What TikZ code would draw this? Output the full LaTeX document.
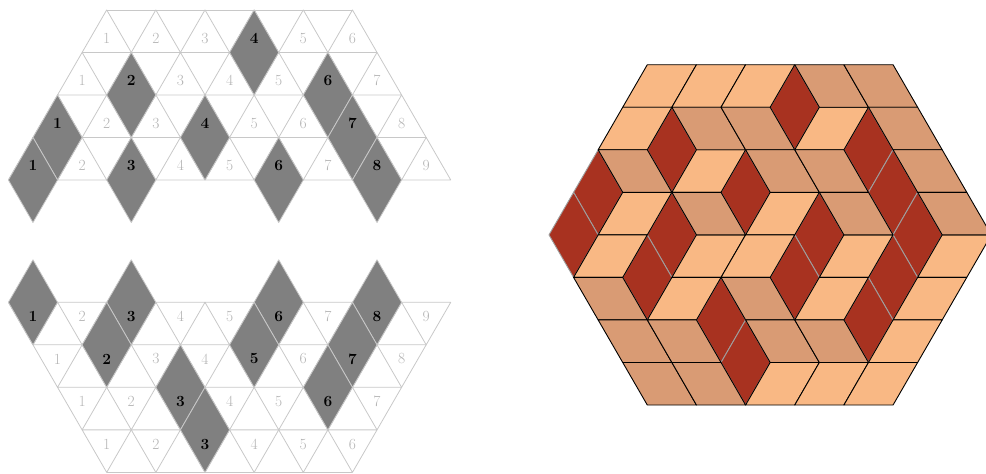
\documentclass[tikz,border=0pt]{standalone}
\definecolor{loC}{HTML}{F9B884}
\definecolor{tanC}{HTML}{D99B74}
\definecolor{redC}{HTML}{A83220}
\definecolor{gridC}{HTML}{C8C8C8}
\definecolor{numC}{HTML}{B4B4B4}
\tikzset{
  tri/.style={draw=gridC, line width=0.8pt, line join=round},
  loz/.style={fill=gray, draw=gridC, line width=0.8pt, line join=round},
  num/.style={text=numC, font=\fontsize{15.5}{18}\selectfont, inner sep=0pt},
  bnum/.style={text=black, font=\fontsize{15.5}{18}\selectfont\bfseries, inner sep=0pt},
  lotile/.style={fill=loC, draw=black, line width=0.9pt, line join=round},
  tantile/.style={fill=tanC, draw=black, line width=0.9pt, line join=round},
  redtile/.style={fill=redC, draw=gray!75, line width=0.9pt, line join=round}
}
\begin{document}
\begin{tikzpicture}[x=1pt,y=-1pt]
\useasboundingbox (0,0) rectangle (986,474);

% ---------------- top-left diagram ----------------
\begin{scope}[shift={(8.4pt,-9.9pt)}, x=24.575pt, y=-42.52pt]
  \foreach \k in {1,...,4}{
    \pgfmathtruncatemacro\n{5+\k}
    \foreach \i in {1,...,\n}{
      \pgfmathtruncatemacro\q{5-\k+2*(\i-1)}
      \draw[tri] (\q,\k-1) -- ++(1,1) -- ++(-2,0) -- cycle;
    }
  }
  \draw[tri] (4,0) -- (14,0);
  \foreach \q/\k in {10/1, 5/2, 13/2, 2/3, 8/3, 14/3, 1/4, 5/4, 11/4, 15/4}
    \draw[loz] (\q,\k-1) -- ++(1,1) -- ++(-1,1) -- ++(-1,-1) -- cycle;
  \foreach \i/\st in {1/num,2/num,3/num,4/bnum,5/num,6/num}
    \node[\st] (ta-1-\i) at ({4+2*(\i-1)},{2/3}) {\i};
  \foreach \i/\st in {1/num,2/bnum,3/num,4/num,5/num,6/bnum,7/num}
    \node[\st] (ta-2-\i) at ({3+2*(\i-1)},{1+2/3}) {\i};
  \foreach \i/\st in {1/bnum,2/num,3/num,4/bnum,5/num,6/num,7/bnum,8/num}
    \node[\st] (ta-3-\i) at ({2+2*(\i-1)},{2+2/3}) {\i};
  \foreach \i/\st in {1/bnum,2/num,3/bnum,4/num,5/num,6/bnum,7/num,8/bnum,9/num}
    \node[\st] (ta-4-\i) at ({1+2*(\i-1)},{3+2/3}) {\i};
\end{scope}

% ---------------- bottom-left diagram ----------------
\begin{scope}[shift={(8.4pt,-302.3pt)}, x=24.575pt, y=-42.52pt]
  \foreach \k in {1,...,4}{
    \pgfmathtruncatemacro\n{10-\k}
    \foreach \i in {1,...,\n}{
      \pgfmathtruncatemacro\q{\k+2*(\i-1)}
      \draw[tri] (\q-1,\k-1) -- ++(2,0) -- ++(-1,1) -- cycle;
    }
  }
  \draw[tri] (4,4) -- (14,4);
  \foreach \q/\k in {1/1, 5/1, 11/1, 15/1, 4/2, 10/2, 14/2, 7/3, 13/3, 8/4}
    \draw[loz] (\q,\k-2) -- ++(1,1) -- ++(-1,1) -- ++(-1,-1) -- cycle;
  \foreach \i/\st in {1/bnum,2/num,3/bnum,4/num,5/num,6/bnum,7/num,8/bnum,9/num}
    \node[\st] (tb-1-\i) at ({1+2*(\i-1)},{1/3}) {\i};
  \foreach \i/\st in {1/num,2/bnum,3/num,4/num,5/bnum,6/num,7/bnum,8/num}
    \node[\st] (tb-2-\i) at ({2+2*(\i-1)},{1+1/3}) {\i};
  \foreach \i/\st in {1/num,2/num,3/bnum,4/num,5/num,6/bnum,7/num}
    \node[\st] (tb-3-\i) at ({3+2*(\i-1)},{2+1/3}) {\i};
  \foreach \i/\st in {1/num,2/num,3/bnum,4/num,5/num,6/num}
    \node[\st] (tb-4-\i) at ({4+2*(\i-1)},{3+1/3}) {\i};
\end{scope}

% ---------------- lozenge tiling of the hexagon ----------------
\begin{scope}[shift={(647.3pt,-64.7pt)}, x=24.575pt, y=-42.54pt]
  \foreach \q/\r in {6/0, 1/1, 9/1, -2/2, 4/2, 10/2, -3/3, 1/3, 7/3, 11/3, 0/4, 6/4, 10/4, 3/5, 9/5, 4/6}
    \draw[redtile] (\q,\r) -- ++(1,1) -- ++(-1,1) -- ++(-1,-1) -- cycle;
  \foreach \q/\r in {0/0, 2/0, 4/0, -1/1, 7/1, 2/2, -1/3, 5/3, -2/4, 2/4, 4/4, 8/4, 12/4, 1/5, 7/5, 11/5, 10/6, 5/7, 7/7, 9/7}
    \draw[lotile] (\q,\r) -- ++(2,0) -- ++(-1,1) -- ++(-2,0) -- cycle;
  \foreach \q/\r in {6/0, 8/0, 1/1, 3/1, 9/1, -2/2, 4/2, 6/2, 10/2, 1/3, 7/3, 11/3, -3/5, 3/5, -2/6, 0/6, 4/6, 6/6, -1/7, 1/7}
    \draw[tantile] (\q,\r) -- ++(2,0) -- ++(1,1) -- ++(-2,0) -- cycle;
\end{scope}
\end{tikzpicture}
\end{document}
